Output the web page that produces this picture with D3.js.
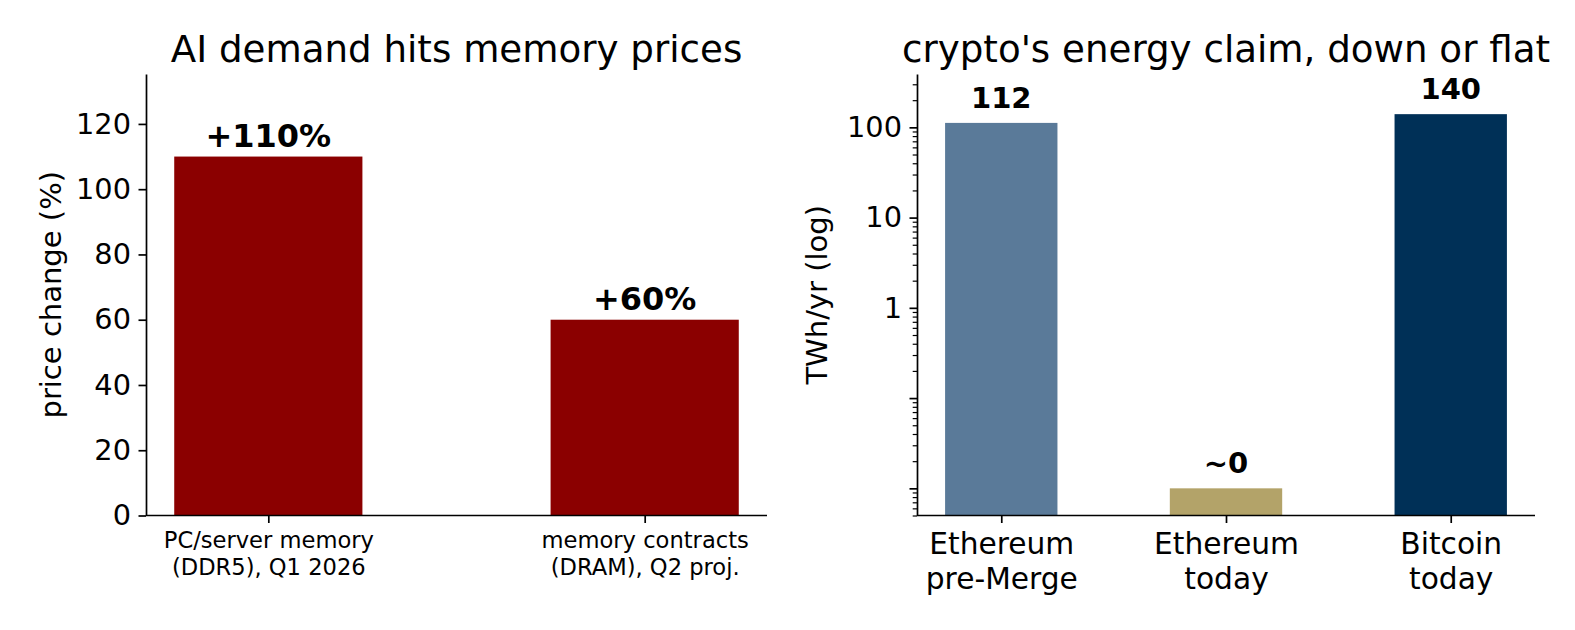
<!DOCTYPE html>
<html lang="en">
<head>
  <meta charset="UTF-8">
  <title>AI memory prices and crypto energy</title>
  <style>
    body { margin: 0; background: #fff; }
    svg { display: block; }
    text { font-family: "DejaVu Sans", sans-serif; fill: #000; }
    .domain { stroke: #000; stroke-width: 1.7; }
    .tick line { stroke: #000; stroke-width: 1.7; }
    .minor line { stroke: #000; stroke-width: 1.2; }
  </style>
  <script src="https://d3js.org/d3.v7.min.js"></script>
</head>
<body>
  <svg id="chart"></svg>
  <script>
    // left panel: memory price changes
    const memCategories = ["PC/server memory\n(DDR5), Q1 2026", "memory contracts\n(DRAM), Q2 proj."];
    const memValues = [110, 60];
    const memLabels = ["+110%", "+60%"];
    const memTicks = [0, 20, 40, 60, 80, 100, 120];

    // right panel: crypto energy use, TWh/yr
    const cryptoCategories = ["Ethereum\npre-Merge", "Ethereum\ntoday", "Bitcoin\ntoday"];
    const cryptoValues = [112, 0.01, 140];
    const cryptoLabels = ["112", "~0", "140"];
    const cryptoColors = ["#5a7a99", "#b3a369", "#003057"];
    const cryptoTicks = [0.01, 0.1, 1, 10, 100];
    const cryptoTickLabels = ["", "", "1", "10", "100"];

    const width = 1575, height = 630;
    const svg = d3.select("#chart").attr("width", width).attr("height", height);

    const yTop = 74, yBottom = 515.5;

    function multiline(sel, lines, lh) {
      sel.selectAll("tspan").data(lines).join("tspan")
        .attr("x", 0)
        .attr("dy", (d, i) => i === 0 ? 0 : lh)
        .text(d => d);
    }

    // ---------- left ----------
    const L = {x0: 146, x1: 767};
    const xL = d3.scalePoint().domain(memCategories).range([L.x0, L.x1]).padding(0.325);
    const yL = d3.scaleLinear().domain([0, 135.3]).range([yBottom, yTop]);
    const gL = svg.append("g");

    gL.selectAll("rect").data(memValues).join("rect")
      .attr("x", (d, i) => xL(memCategories[i]) - xL.step() * 0.25)
      .attr("width", xL.step() * 0.5)
      .attr("y", d => yL(d))
      .attr("height", d => yL(0) - yL(d))
      .attr("fill", "#8b0000");

    gL.selectAll("text.val").data(memValues).join("text")
      .attr("class", "val")
      .attr("x", (d, i) => xL(memCategories[i]))
      .attr("y", d => yL(d) - 10)
      .attr("text-anchor", "middle")
      .attr("font-weight", "bold")
      .attr("font-size", 32)
      .text((d, i) => memLabels[i]);

    const axL = gL.append("g").attr("transform", `translate(${L.x0},0)`)
      .call(d3.axisLeft(yL).tickValues(memTicks).tickSize(7.5).tickPadding(7.5).tickSizeOuter(0));
    axL.selectAll("text").attr("font-size", 28.8).attr("font-family", null);

    const axLb = gL.append("g").attr("transform", `translate(0,${yBottom})`)
      .call(d3.axisBottom(xL).tickSize(7.5).tickSizeOuter(0).tickFormat(""));
    axLb.select(".domain").attr("d", `M${L.x0},0H${L.x1}`);
    axLb.selectAll(".tick").append("text")
      .attr("y", 32)
      .attr("text-anchor", "middle")
      .attr("font-size", 22.6)
      .each(function(d) { multiline(d3.select(this), d.split("\n"), 27); });

    gL.append("text")
      .attr("transform", `translate(61,${(yTop + yBottom) / 2}) rotate(-90)`)
      .attr("text-anchor", "middle")
      .attr("font-size", 29)
      .text("price change (%)");

    gL.append("text")
      .attr("x", (L.x0 + L.x1) / 2).attr("y", 62)
      .attr("text-anchor", "middle")
      .attr("font-size", 37.2)
      .text("AI demand hits memory prices");

    // ---------- right ----------
    const R = {x0: 917, x1: 1535};
    const xR = d3.scalePoint().domain(cryptoCategories).range([R.x0, R.x1]).padding(0.375);
    const yR = d3.scaleLog().domain([0.005, 390]).range([yBottom, yTop]);
    const gR = svg.append("g");

    gR.selectAll("rect").data(cryptoValues).join("rect")
      .attr("x", (d, i) => xR(cryptoCategories[i]) - xR.step() * 0.25)
      .attr("width", xR.step() * 0.5)
      .attr("y", d => yR(d))
      .attr("height", d => yBottom - yR(d))
      .attr("fill", (d, i) => cryptoColors[i]);

    gR.selectAll("text.val").data(cryptoValues).join("text")
      .attr("class", "val")
      .attr("x", (d, i) => xR(cryptoCategories[i]))
      .attr("y", d => yR(d) - 15)
      .attr("text-anchor", "middle")
      .attr("font-weight", "bold")
      .attr("font-size", 29)
      .text((d, i) => cryptoLabels[i]);

    // minor ticks on the log axis
    const minor = [];
    [0.001, 0.01, 0.1, 1, 10, 100].forEach(dec => {
      for (let k = 2; k <= 9; k++) {
        const v = dec * k;
        if (v >= 0.005 && v <= 390) minor.push(v);
      }
    });
    gR.append("g").attr("class", "minor").attr("transform", `translate(${R.x0},0)`)
      .call(d3.axisLeft(yR).tickValues(minor).tickSize(4.3).tickFormat("").tickSizeOuter(0))
      .select(".domain").remove();

    const axR = gR.append("g").attr("transform", `translate(${R.x0},0)`)
      .call(d3.axisLeft(yR).tickValues(cryptoTicks).tickSize(7.5).tickPadding(7.5).tickSizeOuter(0)
        .tickFormat((d, i) => cryptoTickLabels[i]));
    axR.selectAll("text").attr("font-size", 28.8).attr("font-family", null);

    const axRb = gR.append("g").attr("transform", `translate(0,${yBottom})`)
      .call(d3.axisBottom(xR).tickSize(7.5).tickSizeOuter(0).tickFormat(""));
    axRb.select(".domain").attr("d", `M${R.x0},0H${R.x1}`);
    axRb.selectAll(".tick").append("text")
      .attr("y", 38)
      .attr("text-anchor", "middle")
      .attr("font-size", 29.7)
      .each(function(d) { multiline(d3.select(this), d.split("\n"), 35.6); });

    gR.append("text")
      .attr("transform", `translate(827,${(yTop + yBottom) / 2}) rotate(-90)`)
      .attr("text-anchor", "middle")
      .attr("font-size", 29)
      .text("TWh/yr (log)");

    gR.append("text")
      .attr("x", (R.x0 + R.x1) / 2).attr("y", 62)
      .attr("text-anchor", "middle")
      .attr("font-size", 37.2)
      .text("crypto's energy claim, down or flat");
  </script>
</body>
</html>
